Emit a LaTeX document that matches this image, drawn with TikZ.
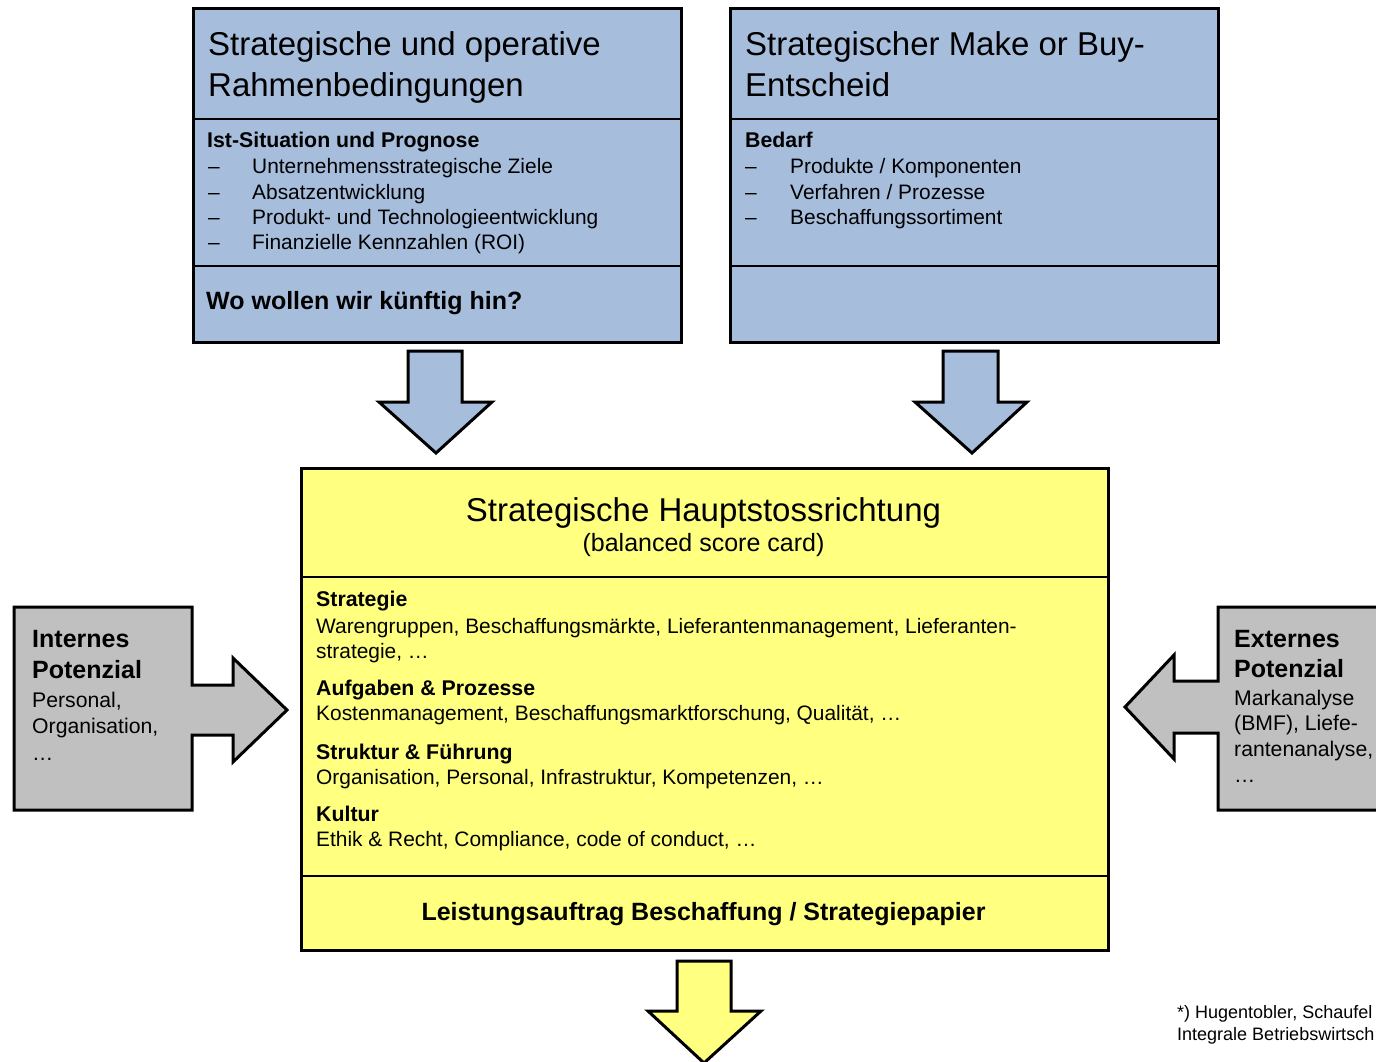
\documentclass[tikz,border=0pt]{standalone}
\usepackage{fontspec}
\setmainfont{Liberation Sans}
\newcommand\setfs[1]{\fontsize{#1}{#1}\selectfont}
\definecolor{boxblue}{RGB}{167,189,220}
\definecolor{boxyellow}{RGB}{255,255,128}
\definecolor{boxgrey}{RGB}{192,192,192}

\begin{document}
\begin{tikzpicture}[x=1pt,y=-1pt,
  frame/.style={draw=black, line width=3pt, inner sep=0pt, anchor=north west},
  divider/.style={draw=black, line width=1.8pt},
  blockarrow/.style={draw=black, line width=3pt, line join=miter},
  txt/.style={anchor=base west, inner sep=0pt},
  ctxt/.style={anchor=base, inner sep=0pt},
  ttl/.style={font=\setfs{33}},
  sub/.style={font=\setfs{25}},
  hd/.style={font=\bfseries\setfs{21.3}},
  itm/.style={font=\setfs{20.9}},
  ask/.style={font=\bfseries\setfs{25}},
  side/.style={font=\bfseries\setfs{25}},
  sidetxt/.style={font=\setfs{21.2}},
  note/.style={font=\setfs{18}}
]
\clip (0,0) rectangle (1376,1061);
\fill[white] (0,0) rectangle (1376,1061);

% ---------- top left box ----------
\node[frame, fill=boxblue, minimum width=488pt, minimum height=334pt] (lbox) at (192,7) {};
\draw[divider] (lbox.west |- 0,119) -- (lbox.east |- 0,119);
\draw[divider] (lbox.west |- 0,266) -- (lbox.east |- 0,266);
\node[txt, ttl] (lt1) at (208,55) {Strategische und operative};
\node[txt, ttl] (lt2) at (208,96) {Rahmenbedingungen};
\node[txt, hd] (lh) at (207,147) {Ist-Situation und Prognose};
\node[txt, itm] (ld1) at (208,173) {–};
\node[txt, itm] (li1) at (252,173) {Unternehmensstrategische Ziele};
\node[txt, itm] (ld2) at (208,199) {–};
\node[txt, itm] (li2) at (252,199) {Absatzentwicklung};
\node[txt, itm] (ld3) at (208,224) {–};
\node[txt, itm] (li3) at (252,224) {Produkt- und Technologieentwicklung};
\node[txt, itm] (ld4) at (208,249) {–};
\node[txt, itm] (li4) at (252,249) {Finanzielle Kennzahlen (ROI)};
\node[txt, ask] (lq) at (206,309) {Wo wollen wir künftig hin?};

% ---------- top right box ----------
\node[frame, fill=boxblue, minimum width=488pt, minimum height=334pt] (rbox) at (729,7) {};
\draw[divider] (rbox.west |- 0,119) -- (rbox.east |- 0,119);
\draw[divider] (rbox.west |- 0,266) -- (rbox.east |- 0,266);
\node[txt, ttl] (rt1) at (745,55) {Strategischer Make or Buy-};
\node[txt, ttl] (rt2) at (745,96) {Entscheid};
\node[txt, hd] (rh) at (745,147) {Bedarf};
\node[txt, itm] (rd1) at (745,173) {–};
\node[txt, itm] (ri1) at (790,173) {Produkte / Komponenten};
\node[txt, itm] (rd2) at (745,199) {–};
\node[txt, itm] (ri2) at (790,199) {Verfahren / Prozesse};
\node[txt, itm] (rd3) at (745,224) {–};
\node[txt, itm] (ri3) at (790,224) {Beschaffungssortiment};

% ---------- block arrows down ----------
\draw[blockarrow, fill=boxblue] (408,351) -- (462,351) -- (462,402) -- (492,402)
  -- (436,453) -- (379,402) -- (408,402) -- cycle;
\draw[blockarrow, fill=boxblue] (943,351) -- (998,351) -- (998,402) -- (1027,402)
  -- (972,453) -- (915,402) -- (943,402) -- cycle;

% ---------- central box ----------
\node[frame, fill=boxyellow, minimum width=807pt, minimum height=482pt] (cbox) at (300,467) {};
\draw[divider] (cbox.west |- 0,577) -- (cbox.east |- 0,577);
\draw[divider] (cbox.west |- 0,876) -- (cbox.east |- 0,876);
\node[ctxt, ttl] (ct1) at (703.5,521) {Strategische Hauptstossrichtung};
\node[ctxt, sub] (ct2) at (703.5,551) {(balanced score card)};
\node[txt, hd] (s1) at (316,606) {Strategie};
\node[txt, itm] (s1a) at (316,633) {Warengruppen, Beschaffungsmärkte, Lieferantenmanagement, Lieferanten-};
\node[txt, itm] (s1b) at (316,658) {strategie, …};
\node[txt, hd] (s2) at (316,695) {Aufgaben \& Prozesse};
\node[txt, itm] (s2a) at (316,720) {Kostenmanagement, Beschaffungsmarktforschung, Qualität, …};
\node[txt, hd] (s3) at (316,759) {Struktur \& Führung};
\node[txt, itm] (s3a) at (316,784) {Organisation, Personal, Infrastruktur, Kompetenzen, …};
\node[txt, hd] (s4) at (316,821) {Kultur};
\node[txt, itm] (s4a) at (316,846) {Ethik \& Recht, Compliance, code of conduct, …};
\node[ctxt, ask] (cf) at (703.5,920) {Leistungsauftrag Beschaffung / Strategiepapier};

% ---------- output arrow ----------
\draw[blockarrow, fill=boxyellow] (677,961) -- (731,961) -- (731,1011) -- (761,1011)
  -- (704,1063) -- (648,1011) -- (677,1011) -- cycle;

% ---------- internal potential ----------
\draw[blockarrow, fill=boxgrey] (14,607) -- (192,607) -- (192,685) -- (233,685)
  -- (233,658) -- (287,710) -- (233,762) -- (233,735) -- (192,735) -- (192,810)
  -- (14,810) -- cycle;
\node[txt, side] (ip1) at (32,647) {Internes};
\node[txt, side] (ip2) at (32,678) {Potenzial};
\node[txt, sidetxt] (ip3) at (32,707) {Personal,};
\node[txt, sidetxt] (ip4) at (32,733) {Organisation,};
\node[txt, sidetxt] (ip5) at (32,760) {…};

% ---------- external potential ----------
\draw[blockarrow, fill=boxgrey] (1400,607) -- (1218,607) -- (1218,681) -- (1174,681)
  -- (1174,655) -- (1125,707) -- (1174,759) -- (1174,733) -- (1218,733) -- (1218,810)
  -- (1400,810) -- cycle;
\node[txt, side] (ep1) at (1234,647) {Externes};
\node[txt, side] (ep2) at (1234,677) {Potenzial};
\node[txt, sidetxt] (ep3) at (1234,705) {Markanalyse};
\node[txt, sidetxt] (ep4) at (1234,730) {(BMF), Liefe-};
\node[txt, sidetxt] (ep5) at (1234,756) {rantenanalyse,};
\node[txt, sidetxt] (ep6) at (1234,782) {…};

% ---------- source note ----------
\node[txt, note] (n1) at (1177,1018) {*) Hugentobler, Schaufel};
\node[txt, note] (n2) at (1177,1040) {Integrale Betriebswirtsch};
\end{tikzpicture}
\end{document}
